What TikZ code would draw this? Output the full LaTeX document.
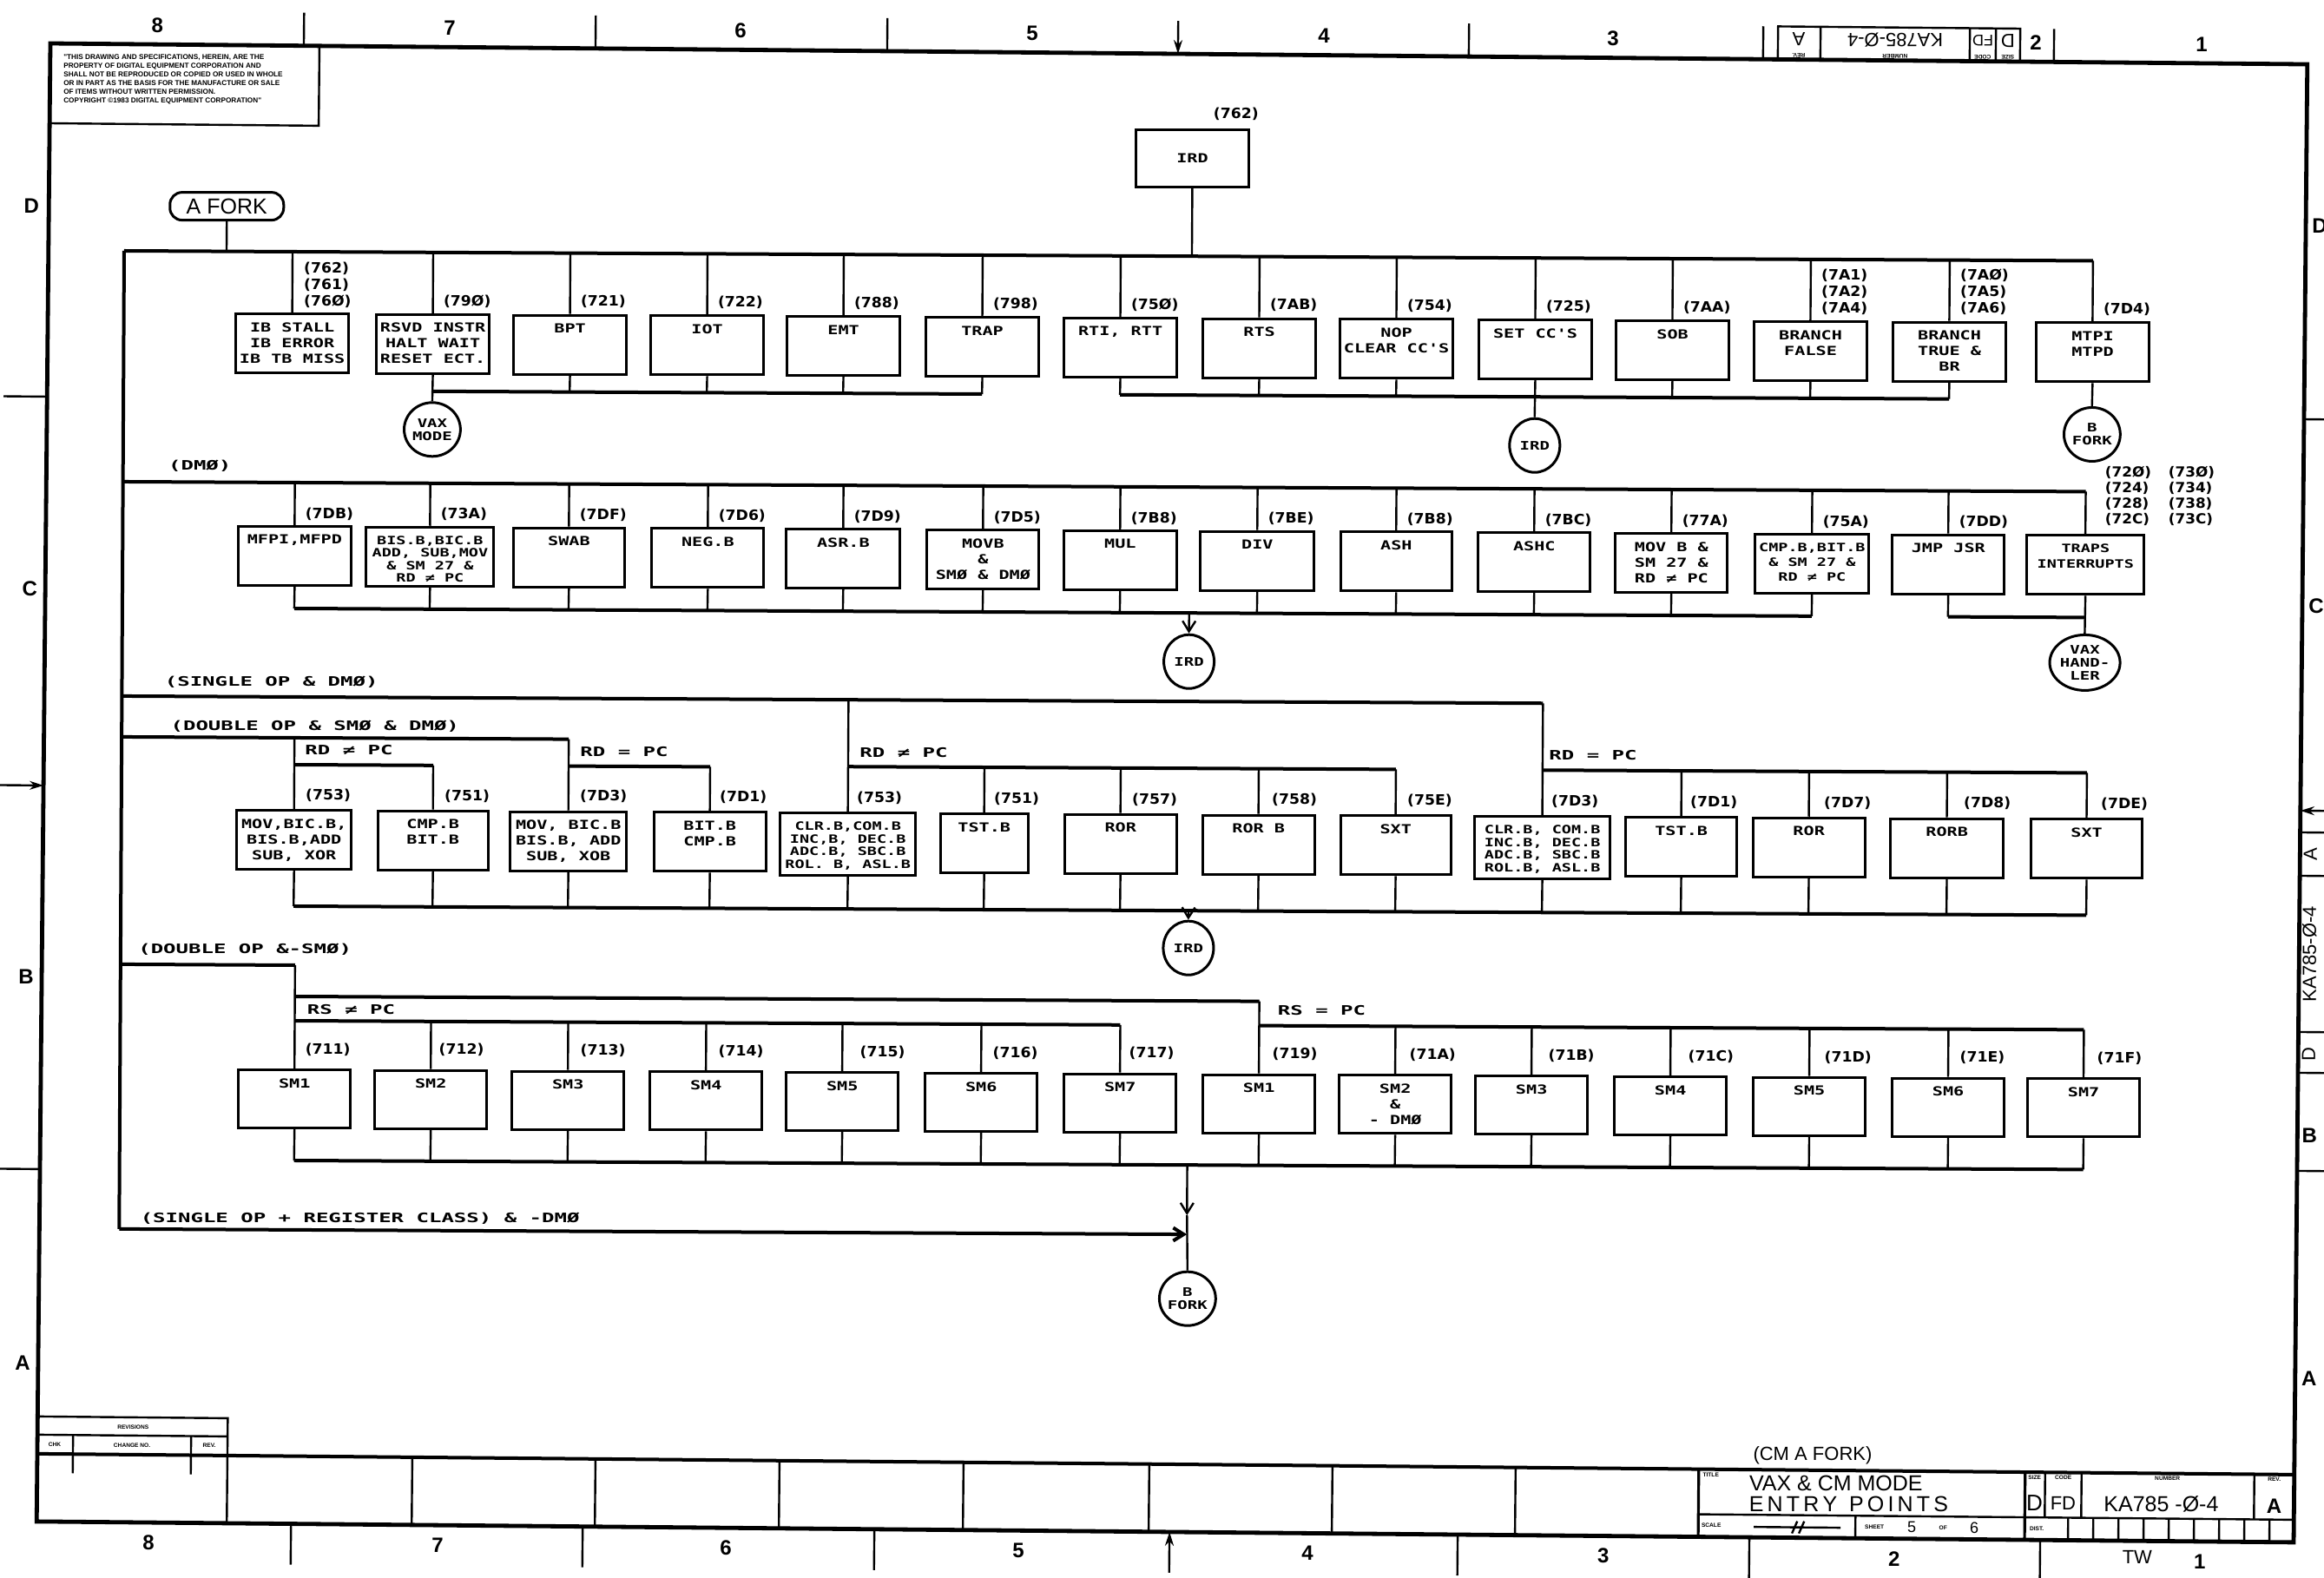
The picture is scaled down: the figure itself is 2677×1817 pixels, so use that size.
\documentclass[tikz,border=0pt]{standalone}
\usepackage{fontspec}
\setmainfont{DejaVu Sans}
\newfontfamily\lett[FakeStretch=1.4]{DejaVu Sans Mono}
\newfontfamily\wlett[FakeStretch=1.6]{DejaVu Sans Mono}
\newfontfamily\numf[FakeStretch=1.05]{DejaVu Sans}
\newfontfamily\frf{Liberation Sans}
\usetikzlibrary{arrows.meta,shapes.geometric}
\tikzset{
  thinl/.style={line width=1.2pt},
  bus/.style={line width=2pt},
  bxs/.style={draw,line width=1.5pt,inner sep=0pt,anchor=north},
  numl/.style={font=\numf\bfseries\fontsize{8.2}{9.5}\selectfont,inner sep=0pt,anchor=west,align=left},
  wlbl/.style={font=\wlett\bfseries\fontsize{7.5}{9}\selectfont,inner sep=0pt,anchor=west},
  circ/.style={draw,ellipse,line width=1.5pt,minimum width=29pt,minimum height=31pt,inner sep=0pt,align=center,font=\lett\bfseries\fontsize{6.8}{7.6}\selectfont},
  arr/.style={-{Straight Barb[length=6pt,width=7.5pt]}},
  frl/.style={line width=1.2pt},
  frt/.style={inner sep=0pt,font=\frf\bfseries\fontsize{12}{14}\selectfont},
  tiny/.style={inner sep=0pt,font=\frf\bfseries\fontsize{3.3}{4}\selectfont},
}
\newcommand\bx[6][\fontsize{7.2}{9}\selectfont]{%
  \node[bxs,minimum width=#4*0.5pt,minimum height=#5*0.5pt] (#2) at (#3)
  {\parbox[c][\dimexpr 0.5pt*#5-10pt\relax][t]{\dimexpr 0.5pt*#4-2pt\relax}{\centering\lett\bfseries#1#6\par}};}
\newcommand\four{\fontsize{6.6}{7.3}\selectfont}
\begin{document}
\begin{tikzpicture}[x=0.5pt,y=-0.5pt]
\useasboundingbox (0,0) rectangle (2677,1817);
\fill[white] (0,0) rectangle (2677,1817);

%================ FRAME =================
\begin{scope}[rotate around={-0.53:(58,50)}]
\draw[line width=2.4pt] (58,50) rectangle (2658,1753);
\foreach \x in {350,686,1022,1692,2031,2366} \draw[frl] (\x,12) -- (\x,50);
\draw[frl,-{Stealth[length=8pt,width=5pt]}] (1357,12) -- (1357,50);
\foreach \x/\t in {181/8,518/7,853/6,1189/5,1525/4,1858/3,2345/2,2536/1}
  \node[frt] (tn\t) at (\x,28) {\t};
% upside-down number box
\draw[frl] (2048,12) rectangle (2327,50);
\foreach \x in {2097,2269,2299} \draw[frl] (\x,12) -- (\x,50);
\node[rotate=180,inner sep=0pt,font=\frf\fontsize{11}{12}\selectfont] (ub1) at (2072,26) {A};
\node[rotate=180,inner sep=0pt,font=\frf\fontsize{11}{12}\selectfont] (ub2) at (2183,26) {KA785-Ø-4};
\node[rotate=180,inner sep=0pt,font=\frf\fontsize{9}{10}\selectfont] (ub3) at (2284,26) {FD};
\node[rotate=180,inner sep=0pt,font=\frf\fontsize{11}{12}\selectfont] (ub4) at (2313,26) {D};
\node[rotate=180,tiny] (ub5) at (2072,45) {REV.};
\node[rotate=180,tiny] (ub6) at (2183,45) {NUMBER};
\node[rotate=180,tiny] (ub7) at (2284,45) {CODE};
\node[rotate=180,tiny] (ub8) at (2313,45) {SIZE};
% copyright box
\draw[frl] (58,50) rectangle (368,142);
\node[anchor=north west,inner sep=0pt,align=left,font=\frf\bfseries\fontsize{4.1}{5}\selectfont] (copy) at (73,62)
 {"THIS DRAWING AND SPECIFICATIONS, HEREIN, ARE THE\\PROPERTY OF DIGITAL EQUIPMENT CORPORATION AND\\SHALL NOT BE REPRODUCED OR COPIED OR USED IN WHOLE\\OR IN PART AS THE BASIS FOR THE MANUFACTURE OR SALE\\OF ITEMS WITHOUT WRITTEN PERMISSION.\\COPYRIGHT \textcopyright1983 DIGITAL EQUIPMENT CORPORATION"};
% side letters and ticks
\node[frt] (lD) at (38,237) {D};
\node[frt] (lC) at (40,678) {C};
\node[frt] (lB) at (40,1125) {B};
\node[frt] (lA) at (40,1571) {A};
\draw[frl] (8,457) -- (58,457);
\draw[frl,-{Stealth[length=8pt,width=5pt]}] (8,905) -- (58,905);
\draw[frl] (8,1347) -- (58,1347);
\node[frt] (rD) at (2674,236) {D};
\node[frt] (rC) at (2674,674) {C};
\node[frt] (rB) at (2672,1284) {B};
\node[frt] (rA) at (2674,1564) {A};
\draw[frl] (2658,459) -- (2700,459);
\draw[frl,-{Stealth[length=8pt,width=5pt]}] (2700,910) -- (2658,910);
\draw[frl] (2658,1325) -- (2700,1325);
% right side strip
\draw[frl] (2658,935) -- (2700,935);
\draw[frl] (2658,985) -- (2700,985);
\draw[frl] (2658,1165) -- (2700,1165);
\draw[frl] (2658,1212) -- (2700,1212);
\node[rotate=90,inner sep=0pt,font=\frf\fontsize{11}{12}\selectfont] (rs1) at (2670,960) {A};
\node[rotate=90,inner sep=0pt,font=\frf\fontsize{11}{12}\selectfont] (rs2) at (2670,1075) {KA785-Ø-4};
\node[rotate=90,inner sep=0pt,font=\frf\fontsize{11}{12}\selectfont] (rs3) at (2670,1190) {D};
% bottom strip
\draw[line width=2pt] (58,1675) -- (2658,1675);
\foreach \x in {277,490,701,913,1125,1339,1550,1761} \draw[frl] (\x,1675) -- (\x,1753);
\draw[line width=1.6pt] (1972,1675) -- (1972,1753);
\draw[frl] (58,1632) rectangle (277,1675);
\draw[frl] (58,1653) -- (277,1653);
\draw[frl] (99,1653) -- (99,1697);
\draw[frl] (235,1653) -- (235,1697);
\node[tiny] (rv1) at (168,1643) {REVISIONS};
\node[tiny] (rv2) at (78,1664) {CHK};
\node[tiny] (rv3) at (167,1664) {CHANGE NO.};
\node[tiny] (rv4) at (256,1664) {REV.};
\foreach \x in {351,687,1023,1695,2031,2366} \draw[frl] (\x,1753) -- (\x,1800);
\draw[frl,-{Stealth[length=8pt,width=5pt]}] (1363,1800) -- (1363,1753);
\foreach \x/\t in {187/8,520/7,852/6,1189/5,1522/4,1863/3,2198/2,2550/1}
  \node[frt] (bn\t) at (\x,1776) {\t};
\node[inner sep=0pt,font=\frf\fontsize{11}{12}\selectfont] (tw) at (2478,1772) {TW};
% title block
\node[inner sep=0pt,font=\frf\fontsize{11}{12}\selectfont] (cmafork) at (2103,1658) {(CM A FORK)};
\draw[frl] (1972,1727) -- (2658,1727);
\draw[frl] (2153,1727) -- (2153,1753);
\draw[line width=1.6pt] (2348,1675) -- (2348,1753);
\foreach \x in {2371,2413,2612} \draw[frl] (\x,1675) -- (\x,1727);
\foreach \x in {2398,2427,2456,2485,2514,2543,2572,2601,2630} \draw[frl] (\x,1727) -- (\x,1753);
\node[tiny] (ttl) at (1986,1682) {TITLE};
\node[anchor=west,inner sep=0pt,font=\frf\fontsize{12.5}{13}\selectfont] (t1) at (2030,1691) {VAX \& CM MODE};
\node[anchor=west,inner sep=0pt,font=\frf\fontsize{12.5}{13}\selectfont] (t2) at (2030,1715) {E\,N\,T\,R\,Y\ \ P\,O\,I\,N\,T\,S};
\node[tiny] (scl) at (1987,1740) {SCALE};
\draw[thinl] (2036,1741) -- (2136,1741);
\draw[thinl] (2080,1748) -- (2086,1734);
\draw[thinl] (2088,1748) -- (2094,1734);
\node[tiny] (sht) at (2175,1740) {SHEET};
\node[inner sep=0pt,font=\frf\fontsize{9}{10}\selectfont] (s5) at (2218,1740) {5};
\node[tiny] (sof) at (2254,1740) {OF};
\node[inner sep=0pt,font=\frf\fontsize{9}{10}\selectfont] (s6) at (2290,1740) {6};
\node[tiny] (dst) at (2362,1740) {DIST.};
\node[tiny] (hsz) at (2359,1681) {SIZE};
\node[tiny] (hcd) at (2392,1681) {CODE};
\node[tiny] (hnm) at (2512,1681) {NUMBER};
\node[tiny] (hrv) at (2635,1681) {REV.};
\node[inner sep=0pt,font=\frf\fontsize{13}{14}\selectfont] (tsz) at (2359,1710) {D};
\node[inner sep=0pt,font=\frf\fontsize{11}{12}\selectfont] (tcd) at (2392,1710) {FD};
\node[inner sep=0pt,font=\frf\fontsize{12.5}{13}\selectfont] (tnm) at (2505,1710) {KA785 -Ø-4};
\node[inner sep=0pt,font=\frf\bfseries\fontsize{12}{13}\selectfont] (trv) at (2635,1712) {A};
\end{scope}

%================ CONTENT =================
\begin{scope}[rotate around={-0.29:(143,289)}]
% top
\node[bxs,anchor=center,minimum width=65pt,minimum height=33pt,font=\lett\bfseries\fontsize{7.2}{8}\selectfont] (irdtop) at (1373,176) {IRD};
\node[numl,anchor=center] (l762) at (1423,125) {(762)};
\draw[thinl] (irdtop.south) -- (1373,289);
\node[draw,rounded corners=7pt,line width=1.5pt,minimum width=65.5pt,minimum height=16pt,inner sep=0pt,font=\frf\fontsize{12.5}{14}\selectfont] (afork) at (261,237) {A FORK};
\draw[thinl] (afork.south) -- (261,289);
% trunk and main lines
\coordinate (t1) at (143,289);
\coordinate (t2) at (143,555);
\coordinate (t3) at (143,802);
\coordinate (t4) at (143,849);
\coordinate (t5) at (143,1111);
\coordinate (t6) at (143,1416);
\draw[bus] (t1) -- (t6);
\draw[bus] (t1) -- (2411,289);
\draw[bus] (t2) -- (2404,555);
\draw[bus] (t3) -- (1780,802);
\draw[bus] (t4) -- (658,849);
\draw[bus] (t5) -- (344,1111);
\coordinate (a4h) at (1373,1416);
\draw[bus,arr] (t6) -- (a4h);

% ---------- ROW 1 ----------
\bx{ra}{337,359}{130}{68}{IB STALL\\IB ERROR\\IB TB MISS}
\bx{rb}{499,359}{130}{68}{RSVD INSTR\\HALT WAIT\\RESET ECT.}
\bx{rc}{657,359}{130}{68}{BPT}
\bx{rd}{815,359}{130}{68}{IOT}
\bx{re}{972,359}{130}{68}{EMT}
\bx{rf}{1132,359}{130}{68}{TRAP}
\bx{rg}{1291,359}{130}{68}{RTI, RTT}
\bx{rh}{1451,359}{130}{68}{RTS}
\bx{ri}{1609,359}{130}{68}{NOP\\CLEAR CC'S}
\bx{rj}{1769,359}{130}{68}{SET CC'S}
\bx{rk}{1927,359}{130}{68}{SOB}
\bx{rl}{2086,359}{130}{68}{BRANCH\\FALSE}
\bx{rm}{2246,359}{130}{68}{BRANCH\\TRUE \&\\BR}
\bx{rn}{2411,359}{130}{68}{MTPI\\MTPD}
\foreach \n/\c in {ra/337,rb/499,rc/657,rd/815,re/972,rf/1132,rg/1291,rh/1451,ri/1609,rj/1769,rk/1927,rl/2086,rm/2246,rn/2411}
  \draw[thinl] (\n.north) -- (\c,289);
\node[numl] (la) at (350,327) {(762)\\(761)\\(76Ø)};
\node[numl] (lb) at (511,345) {(79Ø)};
\node[numl] (lc) at (669,345) {(721)};
\node[numl] (ld) at (827,345) {(722)};
\node[numl] (le) at (984,345) {(788)};
\node[numl] (lf) at (1144,345) {(798)};
\node[numl] (lg) at (1303,345) {(75Ø)};
\node[numl] (lh) at (1463,345) {(7AB)};
\node[numl] (li) at (1621,345) {(754)};
\node[numl] (lj) at (1781,345) {(725)};
\node[numl] (lk) at (1939,345) {(7AA)};
\node[numl] (ll) at (2098,326) {(7A1)\\(7A2)\\(7A4)};
\node[numl] (lm) at (2258,326) {(7AØ)\\(7A5)\\(7A6)};
\node[numl] (ln) at (2423,345) {(7D4)};
\draw[bus] (499,449) -- (1132,449);
\draw[bus] (1291,449) -- (2246,449);
\foreach \n/\c in {rc/657,rd/815,re/972,rf/1132,rg/1291,rh/1451,ri/1609,rk/1927,rl/2086,rm/2246}
  \draw[thinl] (\n.south) -- (\c,449);
\node[circ] (vaxmode) at (499,493) {VAX\\MODE};
\node[circ] (ird1) at (1769,505) {IRD};
\node[circ] (bfork1) at (2411,489) {B\\FORK};
\draw[thinl] (rb.south) -- (vaxmode.north);
\draw[thinl] (rj.south) -- (ird1.north);
\draw[thinl] (rn.south) -- (bfork1.north);

% ---------- ROW 2 ----------
\node[wlbl] (dm0) at (195,537) {(DMØ)};
\bx{pa}{341,604}{130}{68}{MFPI,MFPD}
\bx[\four]{pb}{497,604}{147}{68}{BIS.B,BIC.B\\ADD, SUB,MOV\\\& SM 27 \&\\RD ≠ PC}
\bx{pc}{657,604}{128}{68}{SWAB}
\bx{pd}{817,604}{129}{68}{NEG.B}
\bx{pe}{973,604}{131}{68}{ASR.B}
\bx{pf}{1134,604}{129}{68}{MOVB\\\&\\SMØ \& DMØ}
\bx{pg}{1292,604}{130}{68}{MUL}
\bx{ph}{1450,604}{131}{68}{DIV}
\bx{pi}{1610,604}{128}{68}{ASH}
\bx{pj}{1769,604}{129}{68}{ASHC}
\bx{pk}{1927,604}{129}{68}{MOV B \&\\SM 27 \&\\RD ≠ PC}
\bx[\fontsize{6.6}{8.5}\selectfont]{pl}{2089,604}{131}{68}{CMP.B,BIT.B\\\& SM 27 \&\\RD ≠ PC}
\bx{pm}{2246,604}{129}{68}{JMP JSR}
\bx[\fontsize{6.6}{9}\selectfont]{pn}{2404,604}{135}{68}{TRAPS\\INTERRUPTS}
\foreach \n/\c in {pa/341,pb/497,pc/657,pd/817,pe/973,pf/1134,pg/1292,ph/1450,pi/1610,pj/1769,pk/1927,pl/2089,pm/2246,pn/2404}
  \draw[thinl] (\n.north) -- (\c,555);
\node[numl] (ma) at (353,591) {(7DB)};
\node[numl] (mb) at (509,591) {(73A)};
\node[numl] (mc) at (669,591) {(7DF)};
\node[numl] (md) at (829,591) {(7D6)};
\node[numl] (me) at (985,591) {(7D9)};
\node[numl] (mf) at (1146,591) {(7D5)};
\node[numl] (mg) at (1304,591) {(7B8)};
\node[numl] (mh) at (1462,591) {(7BE)};
\node[numl] (mi) at (1622,591) {(7B8)};
\node[numl] (mj) at (1781,591) {(7BC)};
\node[numl] (mk) at (1939,591) {(77A)};
\node[numl] (ml) at (2101,591) {(75A)};
\node[numl] (mm) at (2258,591) {(7DD)};
\node[numl,font=\numf\bfseries\fontsize{8}{9}\selectfont] (mn1) at (2426,560) {(72Ø)\\(724)\\(728)\\(72C)};
\node[numl,font=\numf\bfseries\fontsize{8}{9}\selectfont] (mn2) at (2499,560) {(73Ø)\\(734)\\(738)\\(73C)};
\draw[bus] (341,700) -- (2089,700);
\draw[bus] (2246,700) -- (2404,700);
\foreach \n/\c in {pa/341,pb/497,pc/657,pd/817,pe/973,pf/1134,pg/1292,ph/1450,pi/1610,pj/1769,pk/1927,pl/2089,pm/2246}
  \draw[thinl] (\n.south) -- (\c,700);
\node[circ] (ird2) at (1372,756) {IRD};
\coordinate (a2) at (1372,700);
\draw[thinl,arr] (a2) -- (ird2.north);
\node[circ,minimum height=32pt] (vaxh) at (2404,752) {VAX\\HAND-\\LER};
\draw[thinl] (pn.south) -- (vaxh.north);

% ---------- ROW 3 ----------
\node[wlbl] (sgl) at (192,786) {(SINGLE OP \& DMØ)};
\node[wlbl] (dbl) at (199,837) {(DOUBLE OP \& SMØ \& DMØ)};
\node[wlbl] (rd1) at (354,863) {RD ≠ PC};
\node[wlbl] (rd2) at (671,863) {RD = PC};
\node[wlbl] (rd3) at (993,863) {RD ≠ PC};
\node[wlbl] (rd4) at (1787,862) {RD = PC};
\bx{da}{342,931}{132}{68}{MOV,BIC.B,\\BIS.B,ADD\\SUB, XOR}
\bx{db}{502,931}{127}{68}{CMP.B\\BIT.B}
\bx{dc}{658,931}{134}{68}{MOV, BIC.B\\BIS.B, ADD\\SUB, XOB}
\bx{dd}{821,931}{129}{68}{BIT.B\\CMP.B}
\bx[\four]{sa}{980,931}{156}{72}{CLR.B,COM.B\\INC,B, DEC.B\\ADC.B, SBC.B\\ROL. B, ASL.B}
\bx{sb}{1137,931}{101}{68}{TST.B}
\bx{sc}{1294,931}{129}{68}{ROR}
\bx{sd}{1453,931}{129}{68}{ROR B}
\bx{se}{1611,931}{127}{68}{SXT}
\bx[\four]{ua}{1780,931}{156}{72}{CLR.B, COM.B\\INC.B, DEC.B\\ADC.B, SBC.B\\ROL.B, ASL.B}
\bx{ub}{1940,931}{128}{68}{TST.B}
\bx{uc}{2087,931}{129}{68}{ROR}
\bx{ud}{2246,931}{130}{68}{RORB}
\bx{ue}{2407,931}{128}{68}{SXT}
\draw[thinl] (da.north) -- (342,849);
\draw[thinl] (dc.north) -- (658,849);
\draw[bus] (342,880) -- (502,880);
\draw[bus] (658,880) -- (821,880);
\draw[thinl] (db.north) -- (502,880);
\draw[thinl] (dd.north) -- (821,880);
\draw[thinl] (sa.north) -- (980,802);
\draw[thinl] (ua.north) -- (1780,802);
\draw[bus] (980,879) -- (1611,879);
\draw[bus] (1780,879) -- (2407,879);
\foreach \n/\c in {sb/1137,sc/1294,sd/1453,se/1611,ub/1940,uc/2087,ud/2246,ue/2407}
  \draw[thinl] (\n.north) -- (\c,879);
\node[numl] (na) at (355,915) {(753)};
\node[numl] (nb) at (515,915) {(751)};
\node[numl] (nc) at (671,915) {(7D3)};
\node[numl] (nd) at (832,915) {(7D1)};
\node[numl] (ne) at (990,915) {(753)};
\node[numl] (nf) at (1148,915) {(751)};
\node[numl] (ng) at (1307,915) {(757)};
\node[numl] (nh) at (1468,915) {(758)};
\node[numl] (ni) at (1624,915) {(75E)};
\node[numl] (nj) at (1790,915) {(7D3)};
\node[numl] (nk) at (1950,915) {(7D1)};
\node[numl] (nl) at (2104,915) {(7D7)};
\node[numl] (nm) at (2265,915) {(7D8)};
\node[numl] (nn) at (2423,915) {(7DE)};
\draw[bus] (342,1043) -- (2407,1043);
\foreach \n/\c in {da/342,db/502,dc/658,dd/821,sa/980,sb/1137,sc/1294,sd/1453,se/1611,ua/1780,ub/1940,uc/2087,ud/2246,ue/2407}
  \draw[thinl] (\n.south) -- (\c,1043);
\node[circ] (ird3) at (1373,1086) {IRD};
\coordinate (a3) at (1373,1043);
\draw[thinl,arr] (a3) -- (ird3.north);

% ---------- ROW 4 ----------
\node[wlbl] (dsm) at (163,1094) {(DOUBLE OP \&-SMØ)};
\node[wlbl] (rs1l) at (358,1162) {RS ≠ PC};
\node[wlbl] (rs2l) at (1476,1157) {RS = PC};
\foreach \n/\c/\t in {qa/344/SM1,qb/501/SM2,qc/659/SM3,qd/818/SM4,qe/975/SM5,qf/1135/SM6,qg/1295/SM7,qh/1455/SM1,qj/1769/SM3,qk/1929/SM4,ql/2089/SM5,qm/2249/SM6,qn/2405/SM7}
  {\bx{\n}{\c,1230}{129}{67}{\t}}
\bx{qi}{1612,1230}{129}{67}{SM2\\\&\\- DMØ}
\draw[thinl] (qa.north) -- (344,1111);
\draw[bus] (344,1147) -- (1455,1147);
\draw[thinl] (qh.north) -- (1455,1147);
\draw[bus] (344,1175) -- (1295,1175);
\draw[bus] (1455,1175) -- (2405,1175);
\foreach \n/\c in {qb/501,qc/659,qd/818,qe/975,qf/1135,qg/1295,qi/1612,qj/1769,qk/1929,ql/2089,qm/2249,qn/2405}
  \draw[thinl] (\n.north) -- (\c,1175);
\node[numl] (oa) at (356,1208) {(711)};
\node[numl] (ob) at (510,1208) {(712)};
\node[numl] (oc) at (673,1208) {(713)};
\node[numl] (od) at (832,1208) {(714)};
\node[numl] (oe) at (995,1208) {(715)};
\node[numl] (of) at (1148,1208) {(716)};
\node[numl] (og) at (1305,1208) {(717)};
\node[numl] (oh) at (1470,1208) {(719)};
\node[numl] (oi) at (1628,1208) {(71A)};
\node[numl] (oj) at (1788,1208) {(71B)};
\node[numl] (ok) at (1949,1208) {(71C)};
\node[numl] (ol) at (2106,1208) {(71D)};
\node[numl] (om) at (2262,1208) {(71E)};
\node[numl] (on) at (2420,1208) {(71F)};
\draw[bus] (344,1336) -- (2405,1336);
\foreach \n/\c in {qa/344,qb/501,qc/659,qd/818,qe/975,qf/1135,qg/1295,qh/1455,qi/1612,qj/1769,qk/1929,ql/2089,qm/2249,qn/2405}
  \draw[thinl] (\n.south) -- (\c,1336);
\node[wlbl] (sreg) at (167,1404) {(SINGLE OP + REGISTER CLASS) \& -DMØ};
\node[circ] (bfork2) at (1374,1490) {B\\FORK};
\coordinate (a4) at (1373,1336);
\coordinate (a4m) at (1373,1394);
\draw[thinl,arr] (a4) -- (a4m);
\draw[thinl] (a4m) -- (bfork2.north);
\end{scope}
\end{tikzpicture}
\end{document}
